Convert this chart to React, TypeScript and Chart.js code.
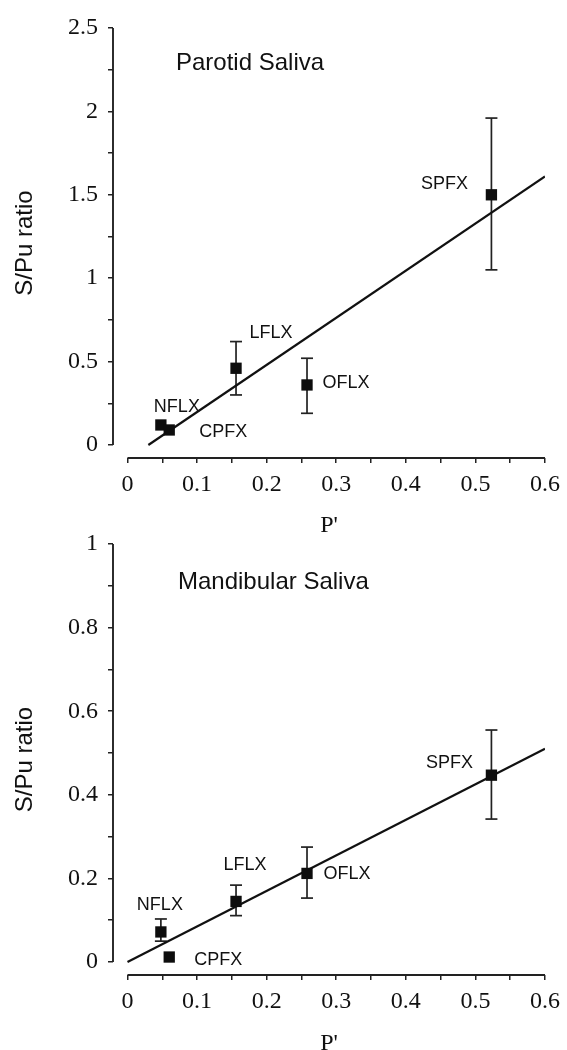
import React, { useEffect, useRef } from 'react';
import { Chart, registerables } from 'chart.js';

Chart.register(...registerables);

// ---- data ----
const drugs = ['NFLX', 'CPFX', 'LFLX', 'OFLX', 'SPFX'];
const pValues = [0.048, 0.06, 0.156, 0.258, 0.523];

const parotidRatio = [0.12, 0.09, 0.46, 0.36, 1.5];
const parotidErrLow: (number | null)[] = [null, null, 0.3, 0.19, 1.05];
const parotidErrHigh: (number | null)[] = [null, null, 0.62, 0.52, 1.96];
const parotidFitX = [0.03, 0.6];
const parotidFitY = [0.0, 1.61];

const mandibularRatio = [0.072, 0.012, 0.145, 0.212, 0.447];
const mandibularErrLow: (number | null)[] = [0.05, null, 0.111, 0.153, 0.342];
const mandibularErrHigh: (number | null)[] = [0.103, null, 0.184, 0.275, 0.555];
const mandibularFitX = [0, 0.6];
const mandibularFitY = [0, 0.51];

const xTicks = [0, 0.05, 0.1, 0.15, 0.2, 0.25, 0.3, 0.35, 0.4, 0.45, 0.5, 0.55, 0.6];
const xTickLabels = ['0', '0.1', '0.2', '0.3', '0.4', '0.5', '0.6'];
const parotidYTicks = [0, 0.25, 0.5, 0.75, 1, 1.25, 1.5, 1.75, 2, 2.25, 2.5];
const parotidYTickLabels = ['0', '0.5', '1', '1.5', '2', '2.5'];
const mandibularYTicks = [0, 0.1, 0.2, 0.3, 0.4, 0.5, 0.6, 0.7, 0.8, 0.9, 1];
const mandibularYTickLabels = ['0', '0.2', '0.4', '0.6', '0.8', '1'];

// ---- styling ----
const INK = '#111111';
const SERIF = '"Liberation Serif", "DejaVu Serif", serif';
const SANS = '"Liberation Sans", Arial, sans-serif';

type PanelCfg = {
  title: string;
  ratio: number[];
  errLow: (number | null)[];
  errHigh: (number | null)[];
  fitX: number[];
  fitY: number[];
  yTicks: number[];
  yLabels: string[];
  yMin: number;
  yMax: number;
  xMin: number;
  canvasTop: number;
  canvasHeight: number;
  padTop: number;
  xScaleHeight: number;
  xTitlePadBottom: number;
  titleDx: number;
  titleDy: number;
  labelOffsets: number[][];
};

const panels: PanelCfg[] = [
  {
    title: 'Parotid Saliva',
    ratio: parotidRatio,
    errLow: parotidErrLow,
    errHigh: parotidErrHigh,
    fitX: parotidFitX,
    fitY: parotidFitY,
    yTicks: parotidYTicks,
    yLabels: parotidYTickLabels,
    yMin: -0.078,
    yMax: 2.5,
    xMin: -0.0208,
    canvasTop: 0,
    canvasHeight: 545,
    padTop: 28,
    xScaleHeight: 87,
    xTitlePadBottom: 5,
    titleDx: 63,
    titleDy: 35,
    labelOffsets: [[16, -18], [54, 2], [35, -35], [39, -2], [-47, -11]],
  },
  {
    title: 'Mandibular Saliva',
    ratio: mandibularRatio,
    errLow: mandibularErrLow,
    errHigh: mandibularErrHigh,
    fitX: mandibularFitX,
    fitY: mandibularFitY,
    yTicks: mandibularYTicks,
    yLabels: mandibularYTickLabels,
    yMin: -0.031,
    yMax: 1,
    xMin: -0.0208,
    canvasTop: 515,
    canvasHeight: 535,
    padTop: 29,
    xScaleHeight: 75,
    xTitlePadBottom: -8.5,
    titleDx: 65,
    titleDy: 38.5,
    labelOffsets: [[-1, -27], [49, 3], [9, -36], [40, 1], [-42, -12]],
  },
];

function labelFor(labels: string[], v: number): string {
  const s = labels.find((l) => Math.abs(Number(l) - v) < 1e-9);
  return s ?? '';
}

function Panel({ cfg }: { cfg: PanelCfg }) {
  const ref = useRef<HTMLCanvasElement | null>(null);

  useEffect(() => {
    if (!ref.current) return;

    const decor = {
      id: 'decor',
      afterDraw(chart: any) {
        const { ctx, chartArea } = chart;
        const xs = chart.scales.x;
        const ys = chart.scales.y;
        ctx.save();
        // detached axis lines
        ctx.strokeStyle = '#222222';
        ctx.lineWidth = 1.9;
        ctx.beginPath();
        ctx.moveTo(chartArea.left, ys.getPixelForValue(cfg.yTicks[0]));
        ctx.lineTo(chartArea.left, ys.getPixelForValue(cfg.yTicks[cfg.yTicks.length - 1]));
        ctx.stroke();
        ctx.beginPath();
        ctx.moveTo(xs.getPixelForValue(xTicks[0]), chartArea.bottom);
        ctx.lineTo(xs.getPixelForValue(xTicks[xTicks.length - 1]), chartArea.bottom);
        ctx.stroke();
        // panel title
        ctx.fillStyle = INK;
        ctx.font = `24px ${SANS}`;
        ctx.textAlign = 'left';
        ctx.textBaseline = 'middle';
        ctx.fillText(cfg.title, chartArea.left + cfg.titleDx, chartArea.top + cfg.titleDy);
        // point labels
        ctx.font = `18px ${SANS}`;
        ctx.textAlign = 'center';
        drugs.forEach((d, i) => {
          const px = xs.getPixelForValue(pValues[i]);
          const py = ys.getPixelForValue(cfg.ratio[i]);
          const [dx, dy] = cfg.labelOffsets[i];
          ctx.fillText(d, px + dx, py + dy);
        });
        ctx.restore();
      },
    };

    const datasets: any[] = [
      {
        label: 'S/Pu',
        data: pValues.map((x, i) => ({ x, y: cfg.ratio[i] })),
        pointStyle: 'rect',
        pointRadius: 8,
        pointBorderWidth: 0,
        backgroundColor: '#0d0d0d',
        borderColor: '#0d0d0d',
        showLine: false,
      },
      {
        label: 'fit',
        data: cfg.fitX.map((x, i) => ({ x, y: cfg.fitY[i] })),
        showLine: true,
        pointRadius: 0,
        borderColor: '#111',
        borderWidth: 2.2,
      },
    ];
    pValues.forEach((x, i) => {
      const lo = cfg.errLow[i];
      const hi = cfg.errHigh[i];
      if (lo == null || hi == null) return;
      datasets.push({
        label: 'err' + i,
        data: [
          { x, y: lo },
          { x, y: hi },
        ],
        showLine: true,
        borderColor: '#222',
        borderWidth: 1.7,
        pointStyle: 'line',
        pointRadius: 6,
        pointBorderWidth: 1.7,
        pointBorderColor: '#222',
      });
    });

    const chart = new Chart(ref.current, {
      type: 'scatter',
      data: { datasets },
      options: {
        animation: false,
        responsive: false,
        events: [],
        layout: { padding: { left: 0, right: 21.5, top: cfg.padTop, bottom: 0 } },
        plugins: {
          legend: { display: false },
          tooltip: { enabled: false },
        },
        scales: {
          x: {
            type: 'linear',
            min: cfg.xMin,
            max: 0.6,
            afterBuildTicks: (s: any) => {
              s.ticks = xTicks.map((v) => ({ value: v }));
            },
            afterFit: (s: any) => {
              s.height = cfg.xScaleHeight;
            },
            border: { display: false },
            grid: {
              display: true,
              drawOnChartArea: false,
              drawTicks: true,
              tickLength: 5,
              color: '#222',
              lineWidth: 1.5,
            },
            ticks: {
              autoSkip: false,
              maxRotation: 0,
              padding: 7,
              color: INK,
              font: { family: SERIF, size: 24 },
              callback: (v: any) => labelFor(xTickLabels, Number(v)),
            },
            title: {
              display: true,
              text: "P'",
              color: INK,
              font: { family: SERIF, size: 24 },
              padding: { top: 0, bottom: cfg.xTitlePadBottom },
            },
          },
          y: {
            type: 'linear',
            min: cfg.yMin,
            max: cfg.yMax,
            afterBuildTicks: (s: any) => {
              s.ticks = cfg.yTicks.map((v) => ({ value: v }));
            },
            afterFit: (s: any) => {
              s.width = 113;
            },
            border: { display: false },
            grid: {
              display: true,
              drawOnChartArea: false,
              drawTicks: true,
              tickLength: 5,
              color: '#222',
              lineWidth: 1.5,
            },
            ticks: {
              autoSkip: false,
              padding: 10,
              color: INK,
              font: { family: SERIF, size: 24 },
              callback: (v: any) => labelFor(cfg.yLabels, Number(v)),
            },
            title: {
              display: true,
              text: 'S/Pu ratio',
              color: INK,
              font: { family: SANS, size: 24 },
              padding: { top: 10.6, bottom: 0 },
            },
          },
        },
      },
      plugins: [decor],
    } as any);

    return () => chart.destroy();
  }, [cfg]);

  return (
    <canvas
      ref={ref}
      width={567}
      height={cfg.canvasHeight}
      style={{
        position: 'absolute',
        left: 0,
        top: cfg.canvasTop,
        width: 567,
        height: cfg.canvasHeight,
      }}
    />
  );
}

export default function App() {
  useEffect(() => {
    document.body.style.margin = '0';
    document.body.style.overflow = 'hidden';
    document.body.style.background = '#ffffff';
  }, []);
  return (
    <div style={{ position: 'relative', width: 567, height: 1050, background: '#ffffff', overflow: 'hidden' }}>
      {panels.map((p) => (
        <Panel key={p.title} cfg={p} />
      ))}
    </div>
  );
}
